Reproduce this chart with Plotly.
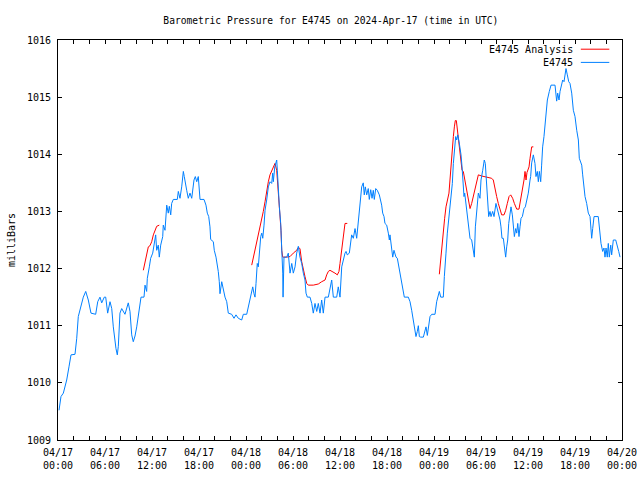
import pandas as pd
import plotly.graph_objects as go

# Hours since 2024-04-17 00:00 UTC, station E4745 pressure (mb)
obs_hours = [0.13,0.38,0.68,1.11,1.40,1.66,2.17,2.39,2.59,2.94,3.23,3.54,3.87,4.21,4.81,5.07,5.36,5.58,5.91,6.09,
6.34,6.64,6.86,7.06,7.19,7.40,7.57,7.70,7.91,8.13,8.55,8.77,8.97,9.19,9.41,9.61,9.83,10.05,10.34,10.60,
10.98,11.11,11.32,11.40,11.66,11.83,12.09,12.26,12.47,12.60,12.80,12.93,13.11,13.37,13.44,13.66,13.79,13.88,14.08,14.21,
14.39,14.51,14.72,15.23,15.36,15.57,15.79,15.92,16.00,16.12,16.25,16.43,16.63,16.85,17.07,17.20,17.36,17.53,17.71,17.91,
18.13,18.64,18.89,19.06,19.24,19.40,19.49,19.83,19.95,20.17,20.34,20.46,20.59,20.68,20.90,21.10,21.32,21.54,21.74,22.17,
22.47,22.72,23.02,23.45,23.66,24.09,24.29,24.51,24.73,24.86,25.02,25.15,25.28,25.37,25.44,25.57,25.70,25.88,26.01,26.14,
26.30,26.43,26.64,26.85,27.06,27.28,27.41,27.49,27.67,27.79,27.92,28.00,28.13,28.26,28.43,28.56,28.69,28.73,28.79,28.85,
29.20,29.40,29.62,29.84,30.04,30.26,30.47,30.68,30.89,31.11,31.32,31.53,31.66,31.83,32.17,32.39,32.59,32.81,33.03,33.23,
33.45,33.66,33.87,34.09,34.51,34.72,34.94,35.15,35.58,35.78,36.00,36.22,36.43,36.64,36.77,36.93,37.19,37.37,37.49,37.70,
37.92,38.13,38.34,38.46,38.64,38.77,38.97,39.10,39.23,39.41,39.61,39.74,39.92,40.09,40.25,40.38,40.56,40.76,41.02,41.20,
41.32,41.45,41.62,41.74,41.96,42.17,42.30,42.38,42.60,42.73,42.89,43.15,43.32,43.57,43.75,43.88,44.08,44.21,44.72,44.94,
45.15,45.28,45.45,45.57,45.70,45.87,46.00,46.13,46.30,46.64,46.85,46.98,47.15,47.28,47.49,47.71,48.13,48.34,48.55,48.68,
48.86,49.19,49.32,49.40,49.53,49.70,49.91,50.13,50.34,50.47,50.65,50.77,50.90,51.03,51.20,51.32,51.45,51.58,51.67,51.74,
51.83,51.92,52.00,52.09,52.25,52.47,52.60,52.81,53.02,53.15,53.28,53.45,53.66,53.87,54.00,54.22,54.42,54.55,54.73,54.86,
54.98,55.15,55.28,55.49,55.66,55.91,56.08,56.26,56.43,56.55,56.68,56.85,56.98,57.15,57.28,57.41,57.54,57.70,57.83,58.00,
58.13,58.26,58.43,58.56,58.69,58.85,58.98,59.11,59.28,59.49,59.66,59.83,60.04,60.26,60.34,60.47,60.68,60.89,61.02,61.19,
61.32,61.45,61.62,61.74,61.87,62.04,62.17,62.30,62.47,62.72,62.94,63.45,63.57,63.66,63.79,63.96,64.09,64.30,64.43,64.60,
64.72,64.85,65.02,65.20,65.36,65.58,65.79,66.00,66.22,66.43,66.55,66.73,66.86,66.98,67.11,67.28,67.49,67.70,67.92,68.04,
68.13,68.26,68.43,68.97,69.19,69.32,69.53,69.70,69.83,69.96,70.12,70.25,70.38,70.56,70.68,70.89,71.20,71.40,71.58,71.75]

obs_mb = [1009.52,1009.76,1009.82,1010.05,1010.28,1010.49,1010.50,1010.78,1011.16,1011.33,1011.50,1011.60,1011.45,1011.22,1011.20,1011.42,1011.50,1011.40,1011.50,1011.50,
1011.22,1011.42,1011.30,1010.98,1010.80,1010.60,1010.49,1010.64,1011.22,1011.30,1011.20,1011.30,1011.40,1011.25,1010.84,1010.72,1010.82,1010.98,1011.27,1011.50,
1011.50,1011.71,1011.60,1011.83,1012.03,1012.18,1012.27,1012.41,1012.59,1012.32,1012.41,1012.20,1012.41,1012.56,1012.76,1012.67,1012.94,1013.11,1012.97,1013.09,
1012.94,1013.14,1013.21,1013.21,1013.35,1013.23,1013.43,1013.58,1013.70,1013.61,1013.49,1013.37,1013.23,1013.32,1013.23,1013.40,1013.55,1013.61,1013.52,1013.61,
1013.21,1013.21,1013.11,1012.97,1012.91,1012.73,1012.51,1012.47,1012.32,1012.20,1012.09,1011.95,1011.77,1011.56,1011.77,1011.62,1011.50,1011.42,1011.22,1011.20,
1011.13,1011.19,1011.13,1011.10,1011.20,1011.20,1011.33,1011.50,1011.62,1011.68,1011.56,1011.50,1011.74,1011.95,1012.09,1012.03,1012.32,1012.56,1012.62,1012.53,
1012.76,1013.02,1013.20,1013.43,1013.52,1013.49,1013.67,1013.52,1013.78,1013.84,1013.90,1013.72,1013.35,1013.08,1012.79,1012.38,1011.92,1011.50,1011.71,1012.20,
1012.20,1012.27,1011.92,1012.09,1011.92,1012.03,1012.27,1012.39,1012.20,1012.09,1011.92,1011.80,1011.57,1011.50,1011.50,1011.39,1011.22,1011.39,1011.25,1011.39,
1011.22,1011.45,1011.22,1011.50,1011.50,1011.68,1011.80,1011.50,1011.50,1011.68,1011.50,1012.03,1012.18,1012.27,1012.30,1012.24,1012.27,1012.47,1012.59,1012.53,
1012.70,1012.53,1012.79,1013.02,1013.26,1013.43,1013.50,1013.29,1013.43,1013.29,1013.40,1013.21,1013.38,1013.23,1013.37,1013.21,1013.40,1013.37,1013.29,1013.20,
1013.11,1012.97,1012.91,1012.79,1012.76,1012.62,1012.50,1012.59,1012.38,1012.20,1012.32,1012.20,1012.18,1012.00,1011.89,1011.77,1011.65,1011.50,1011.50,1011.42,
1011.27,1011.16,1011.07,1010.98,1010.81,1010.90,1011.00,1010.81,1010.80,1010.80,1010.92,1010.98,1010.83,1011.00,1011.16,1011.20,1011.20,1011.42,1011.54,1011.60,
1011.50,1011.50,1011.86,1012.10,1012.27,1012.62,1012.88,1013.20,1013.49,1013.84,1014.13,1014.31,1014.25,1014.34,1014.22,1014.13,1013.99,1013.78,1013.49,1013.37,
1013.26,1013.32,1013.23,1013.08,1012.88,1012.73,1012.53,1012.50,1012.32,1012.20,1012.73,1013.02,1013.32,1013.23,1013.55,1013.72,1013.90,1013.84,1013.49,1013.20,
1012.91,1013.00,1012.91,1013.00,1012.91,1013.14,1013.05,1012.97,1012.85,1012.73,1012.53,1012.53,1012.38,1012.20,1012.38,1012.50,1012.79,1012.97,1013.08,1012.94,
1012.73,1012.56,1012.70,1012.62,1012.79,1012.56,1012.73,1012.88,1012.91,1013.05,1013.08,1013.20,1013.32,1013.55,1013.61,1013.85,1013.99,1013.84,1013.61,1013.70,
1013.52,1013.70,1013.52,1013.81,1014.13,1014.31,1014.48,1014.75,1014.95,1015.10,1015.21,1015.21,1015.07,1014.93,1015.07,1014.95,1015.10,1015.21,1015.30,1015.27,
1015.42,1015.50,1015.39,1015.27,1015.24,1015.07,1014.77,1014.66,1014.42,1014.25,1013.93,1013.87,1013.81,1013.64,1013.46,1013.26,1013.14,1012.97,1012.91,1012.65,
1012.53,1012.70,1012.91,1012.91,1012.62,1012.44,1012.30,1012.36,1012.20,1012.36,1012.20,1012.44,1012.20,1012.41,1012.24,1012.50,1012.50,1012.41,1012.30,1012.20]

# Analysis series (None = gap between analysis runs)
ana_hours = [10.89,11.11,11.32,11.53,11.74,11.96,12.17,12.38,12.60,12.93,13.00,
24.73,24.93,25.15,25.37,25.57,25.79,26.00,26.21,26.43,26.64,26.85,27.06,27.28,27.49,27.70,27.92,28.13,28.26,28.34,28.47,
28.56,28.69,29.20,29.62,30.04,30.47,30.68,30.89,31.11,31.32,31.53,31.75,31.95,32.59,33.23,33.66,34.09,34.30,34.51,34.72,
35.07,35.36,35.66,35.87,36.00,36.13,36.29,36.43,36.64,36.93,37.00,
48.68,48.86,49.06,49.19,49.36,49.53,49.70,49.91,50.04,50.17,50.34,50.47,50.60,50.72,50.85,50.98,51.11,51.24,51.41,51.58,
51.74,51.96,52.17,52.38,52.60,52.81,53.02,53.24,53.45,53.66,54.09,54.51,54.93,55.36,55.57,55.79,56.00,56.21,56.43,56.64,
56.94,57.15,57.36,57.58,57.79,58.04,58.26,58.56,58.85,59.06,59.28,59.49,59.62,59.75,59.87,60.13,60.26,60.47,60.68]

ana_mb = [1011.97,1012.12,1012.27,1012.38,1012.40,1012.47,1012.59,1012.67,1012.74,1012.76,None,
1012.06,1012.18,1012.35,1012.47,1012.59,1012.73,1012.85,1013.00,1013.17,1013.37,1013.52,1013.64,1013.72,1013.78,1013.84,1013.72,1013.37,1013.08,1012.88,1012.67,
1012.32,1012.20,1012.20,1012.21,1012.27,1012.32,1012.37,1012.35,1012.12,1011.97,1011.86,1011.74,1011.71,1011.71,1011.73,1011.77,1011.80,1011.89,1011.95,1011.97,
1011.95,1011.92,1011.89,1011.95,1012.09,1012.24,1012.38,1012.59,1012.79,1012.79,None,
1011.90,1012.20,1012.44,1012.65,1012.88,1013.08,1013.21,1013.32,1013.55,1013.84,1014.10,1014.31,1014.48,1014.59,1014.59,1014.45,1014.31,1014.13,1013.93,1013.72,
1013.70,1013.55,1013.37,1013.20,1013.05,1013.14,1013.26,1013.40,1013.52,1013.64,1013.62,1013.61,1013.60,1013.58,1013.55,1013.37,1013.26,1013.14,1013.02,1012.94,
1012.94,1013.02,1013.14,1013.26,1013.29,1013.23,1013.14,1013.04,1013.04,1013.20,1013.40,1013.55,1013.70,1013.55,1013.68,1013.78,1013.93,1014.13,1014.13]

tick_hours = [0, 6, 12, 18, 24, 30, 36, 42, 48, 54, 60, 66, 72]
y_ticks = [1009, 1010, 1011, 1012, 1013, 1014, 1015, 1016]

base = pd.Timestamp("2024-04-17 00:00")
def to_time(hours):
    return [base + pd.Timedelta(hours=h) for h in hours]

obs_t = to_time(obs_hours)
ana_t = to_time(ana_hours)
tick_t = to_time(tick_hours)
tick_text = [t.strftime("%m/%d") + "<br>" + t.strftime("%H:%M") for t in tick_t]

FONT = "DejaVu Sans Mono"
RED = "#ff0000"
BLUE = "#0080ff"

fig = go.Figure()
fig.add_trace(go.Scatter(x=ana_t, y=ana_mb, mode="lines", name="E4745 Analysis",
                         line=dict(color=RED, width=1), connectgaps=False))
fig.add_trace(go.Scatter(x=obs_t, y=obs_mb, mode="lines", name="E4745",
                         line=dict(color=BLUE, width=1)))

fig.update_layout(
    width=640, height=480,
    margin=dict(l=58, r=18, t=40, b=40, autoexpand=False),
    paper_bgcolor="white", plot_bgcolor="white",
    showlegend=False,
    font=dict(family=FONT, size=10, color="black"),
    title=dict(text="Barometric Pressure for E4745 on 2024-Apr-17 (time in UTC)",
               x=0.517, xanchor="center", y=0.958, yanchor="middle",
               font=dict(family=FONT, size=9.6, color="black")),
)
fig.update_xaxes(
    range=[tick_t[0], tick_t[-1]],
    automargin=False,
    tickmode="array", tickvals=tick_t, ticktext=tick_text,
    ticks="inside", ticklen=4, tickcolor="black",
    minor=dict(dtick=2 * 3600 * 1000, ticks="inside", ticklen=4, tickcolor="black", showgrid=False),
    showgrid=False, zeroline=False,
    showline=True, linecolor="black", linewidth=1, mirror="allticks",
    tickfont=dict(family=FONT, size=10, color="black"),
    ticklabelstandoff=3,
)
fig.update_yaxes(
    range=[1009, 1016],
    automargin=False,
    tickmode="array", tickvals=y_ticks, ticktext=[str(v) for v in y_ticks],
    ticks="inside", ticklen=4, tickcolor="black",
    showgrid=False, zeroline=False,
    showline=True, linecolor="black", linewidth=1, mirror="allticks",
    tickfont=dict(family=FONT, size=10, color="black"),
    ticklabelstandoff=4,
    title=dict(text="milliBars", font=dict(family=FONT, size=10, color="black"), standoff=9),
)

# gnuplot-style key: right-aligned labels with line samples to their right
key_items = [("E4745 Analysis", RED, 0.977), ("E4745", BLUE, 0.944)]
for label, color, ky in key_items:
    fig.add_annotation(text=label, xref="paper", yref="paper", x=0.917, y=ky,
                       xanchor="right", yanchor="middle", showarrow=False,
                       font=dict(family=FONT, size=10, color="black"))
    fig.add_shape(type="line", xref="paper", yref="paper", x0=0.927, x1=0.9775,
                  y0=ky, y1=ky, line=dict(color=color, width=1))

# place the 640x480 figure flush with the window's top-left corner, no modebar
fig.write_html("out.html",
               config={"displayModeBar": False},
               post_script="document.body.style.margin='0';document.body.style.overflow='hidden';")
